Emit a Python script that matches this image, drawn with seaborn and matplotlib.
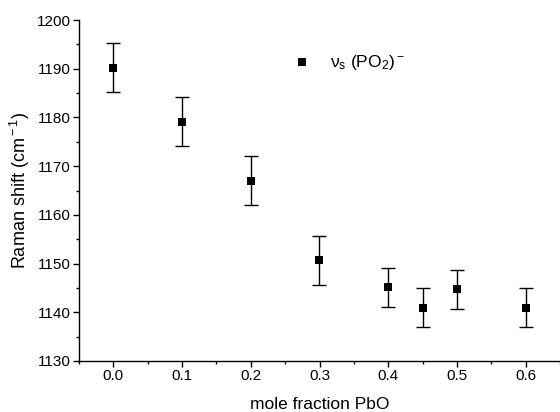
import matplotlib
matplotlib.use("Agg")
import matplotlib.pyplot as plt
from matplotlib.ticker import MultipleLocator
import seaborn as sns
import pandas as pd

mole_fraction = [0.0, 0.1, 0.2, 0.3, 0.4, 0.45, 0.5, 0.6]
raman_shift = [1190.2, 1179.1, 1167.0, 1150.7, 1145.1, 1140.9, 1144.7, 1140.9]
error = [5, 5, 5, 5, 4, 4, 4, 4]

df = pd.DataFrame({"x": mole_fraction, "y": raman_shift, "err": error})

sns.set_theme(style="ticks")
plt.rcParams["font.family"] = ["Liberation Sans", "DejaVu Sans"]
plt.rcParams["mathtext.fontset"] = "custom"
plt.rcParams["mathtext.rm"] = "Liberation Sans"
plt.rcParams["mathtext.it"] = "Liberation Sans"
plt.rcParams["text.color"] = "black"
plt.rcParams["axes.labelcolor"] = "black"

fig = plt.figure(figsize=(5.6, 4.12), dpi=100)
ax = fig.add_axes([79/560, 1-361/412, 1-79/560, (361-20)/412])

ax.errorbar(df["x"], df["y"], yerr=df["err"], fmt="none", ecolor="black",
            elinewidth=1, capsize=4.7, capthick=1, zorder=2)
sns.scatterplot(data=df, x="x", y="y", marker="s", color="black", s=34,
                edgecolor="black", linewidth=0, ax=ax, zorder=3,
                label=r"$\nu_{\rm s}$ (PO$_2$)$^{\rm -}$")

ax.set_xlim(-0.05, 0.65)
ax.set_ylim(1130, 1200)
ax.xaxis.set_major_locator(MultipleLocator(0.1))
ax.xaxis.set_minor_locator(MultipleLocator(0.05))
ax.yaxis.set_major_locator(MultipleLocator(10))
ax.yaxis.set_minor_locator(MultipleLocator(5))
ax.xaxis.set_major_formatter(matplotlib.ticker.FormatStrFormatter("%.1f"))

for s in ["top", "right"]:
    ax.spines[s].set_visible(False)
for s in ["left", "bottom"]:
    ax.spines[s].set_color("black")
    ax.spines[s].set_linewidth(1)

ax.tick_params(axis="both", which="major", direction="out", length=4, width=1,
               labelsize=11, colors="black", pad=2)
ax.tick_params(axis="both", which="minor", direction="out", length=2.5, width=1,
               colors="black")

ax.set_xlabel("mole fraction PbO", fontsize=12.5, labelpad=10, color="black")
ax.set_ylabel("Raman shift (cm$^{\\rm -1}$)", fontsize=13, labelpad=3, color="black")

leg = ax.legend(loc="upper left", bbox_to_anchor=(0.395, 0.95), frameon=False,
                fontsize=12.5, handletextpad=0.6, markerscale=0.95)
for t in leg.get_texts():
    t.set_color("black")

fig.savefig("out.png", dpi=100)
